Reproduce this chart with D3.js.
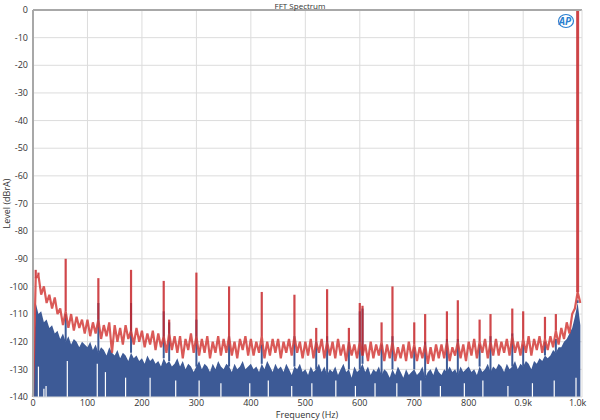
<!DOCTYPE html>
<html>
<head>
<meta charset="utf-8">
<script src="https://cdn.jsdelivr.net/npm/d3@7"></script>
<style>
  body { margin: 0; background: #fff; }
  text { font-family: "Segoe UI", "Open Sans", "DejaVu Sans", sans-serif; }
</style>
</head>
<body>
<svg id="chart" width="600" height="420"></svg>
<script>
// FFT spectrum, two channels. Noise floor read every 5 Hz, spikes listed apart.
var step = 5;

var redFloor = [
  -140, -97, -96, -103, -100, -106, -103, -108, -104, -110,
  -108, -114, -109, -115, -110, -116, -111, -115, -112, -117,
  -112, -118, -113, -117, -112, -119, -114, -118, -113, -124,
  -114, -120, -115, -121, -114, -119, -116, -121, -115, -120,
  -116, -122, -117, -121, -116, -123, -117, -122, -118, -124,
  -117, -123, -118, -124, -118, -126, -119, -123, -117, -124,
  -118, -125, -119, -124, -118, -126, -120, -124, -118, -125,
  -119, -124, -118, -125, -120, -126, -119, -123, -118, -125,
  -119, -125, -120, -124, -118, -126, -120, -125, -119, -124,
  -119, -126, -120, -124, -119, -125, -118, -124, -120, -126,
  -120, -125, -119, -126, -120, -124, -119, -126, -120, -125,
  -120, -126, -119, -125, -121, -127, -120, -125, -121, -126,
  -120, -125, -121, -127, -120, -126, -121, -125, -120, -127,
  -121, -126, -120, -127, -122, -126, -121, -127, -120, -126,
  -121, -127, -122, -126, -121, -128, -122, -127, -121, -126,
  -121, -126, -120, -127, -122, -125, -120, -126, -121, -127,
  -120, -125, -119, -126, -120, -124, -119, -126, -120, -125,
  -119, -125, -120, -124, -119, -125, -118, -124, -120, -125,
  -119, -124, -118, -125, -119, -123, -118, -124, -119, -123,
  -118, -122, -116, -121, -115, -119, -113, -117, -110, -108,
  -102, -106
];

var blueFloor = [
  -140, -106, -110, -109, -113, -112, -115, -114, -117, -116,
  -119, -117, -120, -118, -121, -119, -120, -122, -120, -121,
  -122, -120, -123, -121, -124, -122, -123, -125, -122, -124,
  -125, -123, -126, -124, -125, -127, -124, -126, -125, -127,
  -126, -128, -125, -127, -126, -128, -127, -129, -126, -128,
  -127, -129, -128, -126, -129, -127, -130, -128, -129, -131,
  -129, -127, -130, -128, -129, -131, -128, -130, -127, -129,
  -130, -128, -129, -131, -128, -130, -129, -127, -130, -129,
  -128, -130, -129, -131, -128, -130, -127, -129, -131, -128,
  -130, -129, -131, -128, -130, -132, -129, -130, -128, -131,
  -130, -132, -129, -131, -130, -128, -131, -129, -132, -130,
  -131, -129, -132, -130, -128, -131, -130, -133, -129, -131,
  -130, -128, -131, -129, -132, -130, -131, -129, -132, -130,
  -131, -133, -130, -132, -129, -131, -133, -130, -132, -131,
  -130, -132, -131, -129, -133, -131, -130, -132, -129, -131,
  -132, -130, -131, -129, -131, -130, -132, -129, -131, -130,
  -129, -131, -130, -132, -129, -131, -130, -128, -131, -129,
  -130, -128, -129, -131, -128, -130, -129, -127, -130, -128,
  -129, -127, -128, -130, -127, -128, -126, -127, -125, -126,
  -125, -123, -124, -122, -122, -120, -119, -117, -115, -111,
  -106, -114
];

// [frequency Hz, peak level dB]
var redSpikes = [
  [5, -94], [10, -95], [60, -90], [120, -97], [180, -94], [240, -98], [250, -112],
  [300, -95], [360, -100], [420, -102], [480, -103], [520, -115], [540, -101],
  [580, -115], [600, -106], [605, -107], [640, -113], [660, -100], [700, -113],
  [720, -110], [760, -109], [780, -105], [820, -112], [840, -110], [880, -108],
  [900, -109], [940, -111], [960, -110], [1000, 0]
];

var blueSpikes = [
  [60, -110], [120, -106], [180, -106], [240, -109], [250, -113], [300, -112],
  [360, -118], [420, -121], [480, -118], [520, -120], [540, -118], [580, -120],
  [600, -109], [605, -108], [640, -121], [660, -118], [700, -122], [720, -120],
  [760, -119], [780, -119], [820, -121], [840, -118], [880, -117], [900, -121],
  [940, -120], [960, -119], [1000, -105]
];

// narrow gaps in the blue fill: [frequency Hz, top of gap dB]
var blueDips = [
  [10, -129], [20, -137], [24, -136], [63, -127], [118, -128], [133, -131],
  [170, -133], [215, -133], [262, -134], [305, -134], [345, -135], [398, -135],
  [432, -134], [475, -136], [512, -135], [556, -134], [592, -136], [628, -135],
  [668, -135], [712, -134], [748, -136], [792, -135], [826, -134], [872, -136],
  [917, -135], [957, -134], [997, -133]
];

var xTicks = [0, 100, 200, 300, 400, 500, 600, 700, 800, 900, 1000];
var xTickLabels = ["0", "100", "200", "300", "400", "500", "600", "700", "800", "0.9k", "1.0k"];
var yTicks = [0, -10, -20, -30, -40, -50, -60, -70, -80, -90, -100, -110, -120, -130, -140];

var pLeft = 33, pTop = 10, pRight = 582, pBottom = 397;

var svg = d3.select("#chart");

var x = d3.scaleLinear().domain([0, 1008]).range([pLeft, pRight]);
var y = d3.scaleLinear().domain([0, -140]).range([pTop, pBottom]);

function floorAt(arr, f) {
  var i = Math.round(f / step);
  return arr[Math.min(i, arr.length - 1)];
}

// grid
svg.append("g").selectAll("line")
  .data(xTicks.slice(1))
  .enter().append("line")
  .attr("x1", function(d){ return x(d); })
  .attr("x2", function(d){ return x(d); })
  .attr("y1", pTop).attr("y2", pBottom)
  .attr("stroke", "#dcdcdc").attr("stroke-width", 1);

svg.append("g").selectAll("line")
  .data(yTicks.slice(1, -1))
  .enter().append("line")
  .attr("x1", pLeft).attr("x2", pRight)
  .attr("y1", function(d){ return y(d); })
  .attr("y2", function(d){ return y(d); })
  .attr("stroke", "#dcdcdc").attr("stroke-width", 1);

var plot = svg.append("g");

// blue channel, filled down to the bottom of the scale
var area = d3.area()
  .x(function(d, i){ return x(i * step); })
  .y0(y(-140))
  .y1(function(d){ return y(d); });

plot.append("path")
  .datum(blueFloor)
  .attr("d", area)
  .attr("fill", "#3d5a96");

plot.selectAll("line.bspike")
  .data(blueSpikes)
  .enter().append("line")
  .attr("class", "bspike")
  .attr("x1", function(d){ return x(d[0]); })
  .attr("x2", function(d){ return x(d[0]); })
  .attr("y1", function(d){ return y(floorAt(blueFloor, d[0])); })
  .attr("y2", function(d){ return y(d[1]); })
  .attr("stroke", "#3d5a96").attr("stroke-width", 2);

plot.selectAll("line.dip")
  .data(blueDips)
  .enter().append("line")
  .attr("class", "dip")
  .attr("x1", function(d){ return x(d[0]); })
  .attr("x2", function(d){ return x(d[0]); })
  .attr("y1", function(d){ return y(d[1]); })
  .attr("y2", y(-140))
  .attr("stroke", "#fff").attr("stroke-width", 1.2);

// red channel, drawn on top, a little see-through
var line = d3.line()
  .x(function(d, i){ return x(i * step); })
  .y(function(d){ return y(d); });

var red = plot.append("g").attr("opacity", 0.85);

red.append("path")
  .datum(redFloor)
  .attr("d", line)
  .attr("fill", "none")
  .attr("stroke", "#d43d3a")
  .attr("stroke-width", 2.2)
  .attr("stroke-linejoin", "bevel");

red.selectAll("line")
  .data(redSpikes)
  .enter().append("line")
  .attr("x1", function(d){ return x(d[0]); })
  .attr("x2", function(d){ return x(d[0]); })
  .attr("y1", function(d){ return y(floorAt(redFloor, d[0])); })
  .attr("y2", function(d){ return y(d[1]); })
  .attr("stroke", "#c8282c")
  .attr("stroke-width", function(d){ return d[0] === 1000 ? 3 : 2.2; });

// frame
svg.append("line").attr("x1", pLeft).attr("x2", pRight).attr("y1", pTop).attr("y2", pTop)
  .attr("stroke", "#a8a8a8").attr("stroke-width", 2);
svg.append("line").attr("x1", pLeft).attr("x2", pLeft).attr("y1", pTop).attr("y2", pBottom)
  .attr("stroke", "#a8a8a8").attr("stroke-width", 2);
svg.append("line").attr("x1", pRight).attr("x2", pRight).attr("y1", pTop).attr("y2", pBottom)
  .attr("stroke", "#dcdcdc").attr("stroke-width", 1);
svg.append("line").attr("x1", pLeft).attr("x2", pRight).attr("y1", pBottom).attr("y2", pBottom)
  .attr("stroke", "#dcdcdc").attr("stroke-width", 1);

// tick labels
svg.append("g").selectAll("text")
  .data(yTicks)
  .enter().append("text")
  .attr("x", pLeft - 5)
  .attr("y", function(d){ return y(d); })
  .attr("dy", "0.35em")
  .attr("text-anchor", "end")
  .attr("font-size", "9px")
  .attr("fill", "#333")
  .text(function(d){ return d; });

svg.append("g").selectAll("text")
  .data(xTicks)
  .enter().append("text")
  .attr("x", function(d){ return x(d); })
  .attr("y", pBottom + 9)
  .attr("text-anchor", "middle")
  .attr("font-size", "9px")
  .attr("fill", "#333")
  .text(function(d, i){ return xTickLabels[i]; });

// titles
svg.append("text").attr("x", 300).attr("y", 8.5).attr("text-anchor", "middle")
  .attr("font-size", "8px").attr("fill", "#333").text("FFT Spectrum");

svg.append("text").attr("x", 307).attr("y", 418).attr("text-anchor", "middle")
  .attr("font-size", "9px").attr("fill", "#333").text("Frequency (Hz)");

svg.append("text")
  .attr("transform", "translate(10," + (pTop + pBottom) / 2 + ") rotate(-90)")
  .attr("text-anchor", "middle")
  .attr("font-size", "9px").attr("fill", "#333").text("Level (dBrA)");

// AP badge
var logo = svg.append("g").attr("transform", "translate(566,21)");
logo.append("ellipse").attr("rx", 7.5).attr("ry", 6.5)
  .attr("fill", "none").attr("stroke", "#2a7fd0").attr("stroke-width", 1.2);
logo.append("text").attr("x", -1).attr("y", 3.5).attr("text-anchor", "middle")
  .attr("font-size", "10px").attr("font-weight", "bold").attr("font-style", "italic")
  .attr("fill", "#2a7fd0").text("AP");
</script>
</body>
</html>
